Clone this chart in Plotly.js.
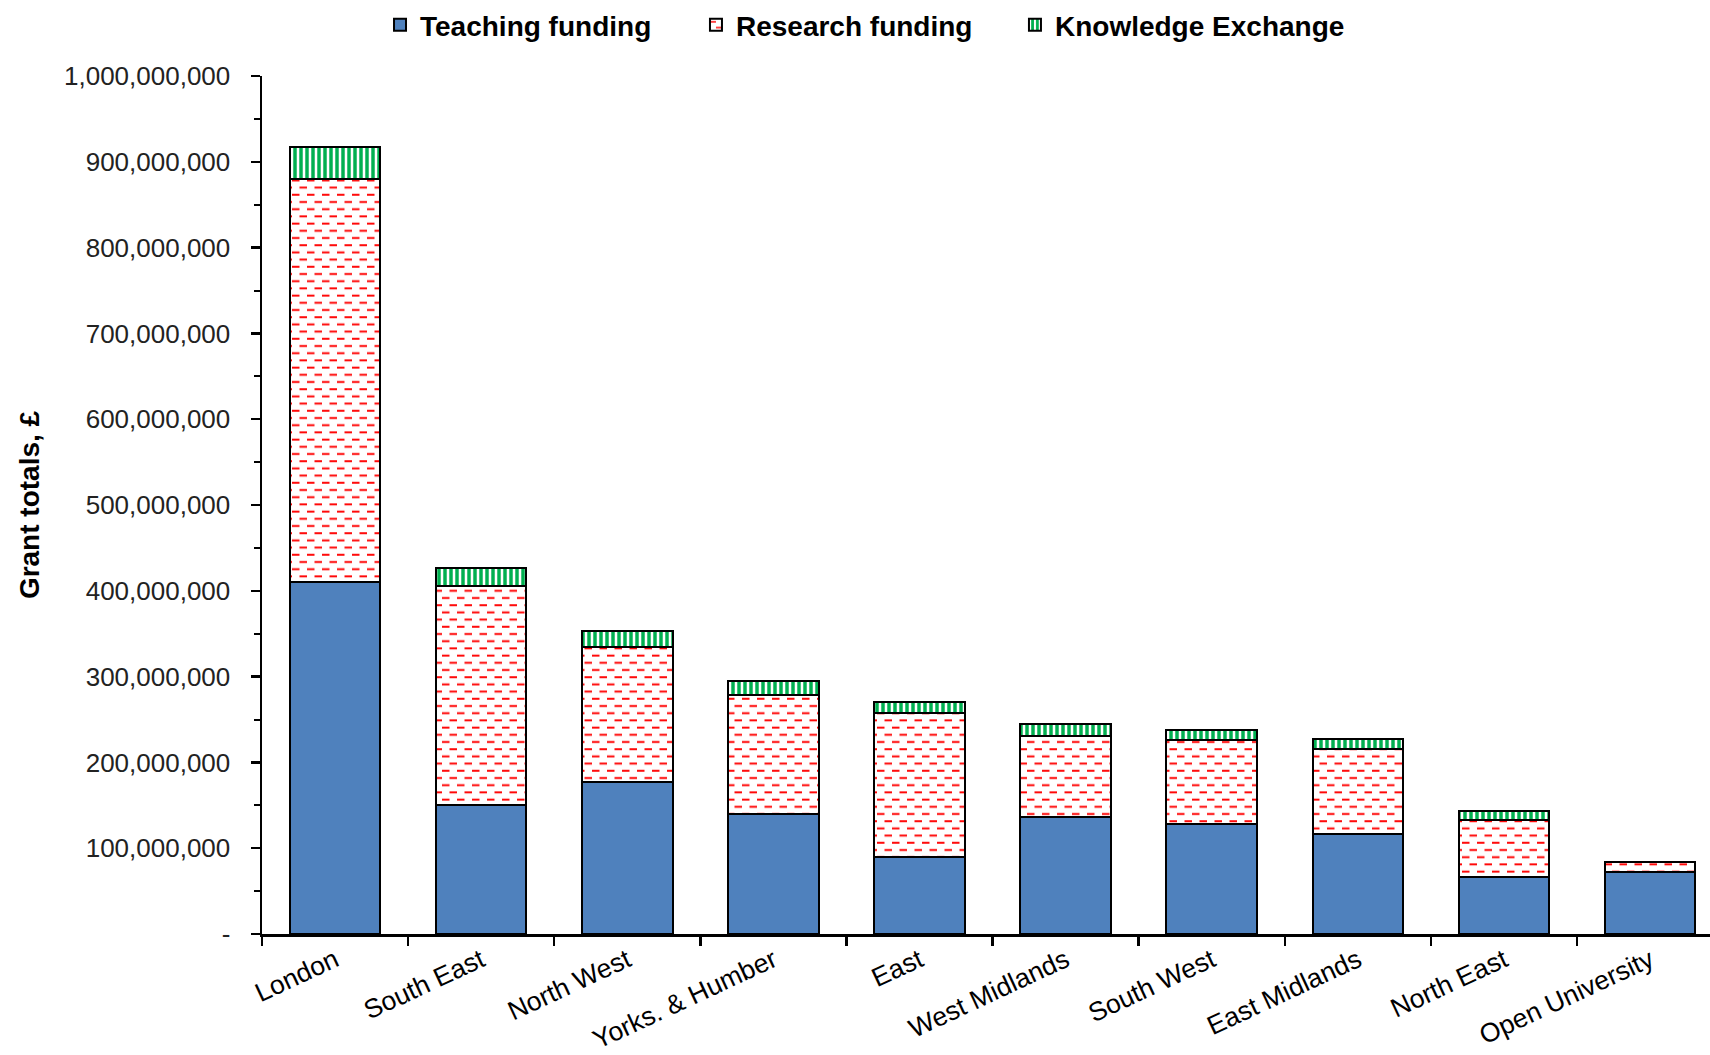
<!DOCTYPE html>
<html>
<head>
<meta charset="utf-8">
<script src="https://cdn.plot.ly/plotly-3.0.1.min.js"></script>
<style>
  html, body { margin: 0; padding: 0; background: #fff; }
  #chart { width: 1710px; height: 1055px; }
</style>
</head>
<body>
<div id="chart"></div>
<script>
// ---- data ----
var regions = ["London", "South East", "North West", "Yorks. & Humber", "East",
               "West Midlands", "South West", "East Midlands", "North East", "Open University"];
var teachingFunding = [410000000, 150000000, 177000000, 140000000, 90000000,
                       136000000, 128000000, 116000000, 67000000, 72000000];
var researchFunding = [470000000, 256000000, 158000000, 139000000, 167000000,
                       95000000, 98000000, 100000000, 66000000, 12000000];
var knowledgeExchange = [37000000, 21000000, 18000000, 16000000, 13500000,
                         14000000, 12000000, 11000000, 10000000, 0];
var yTickValues = [0, 100000000, 200000000, 300000000, 400000000, 500000000,
                   600000000, 700000000, 800000000, 900000000, 1000000000];
var yTickLabels = ["-", "100,000,000", "200,000,000", "300,000,000", "400,000,000",
                   "500,000,000", "600,000,000", "700,000,000", "800,000,000",
                   "900,000,000", "1,000,000,000"];

var FONT = "Liberation Sans, Arial, Helvetica, sans-serif";
var outline = { color: "#000000", width: 2 };

var traces = [
  {
    type: "bar", name: "Teaching funding", x: regions, y: teachingFunding,
    legend: "legend",
    marker: { color: "#4F81BD", line: outline },
    width: 0.62
  },
  {
    type: "bar", name: "Research funding", x: regions, y: researchFunding,
    legend: "legend2",
    marker: {
      color: "#FFFFFF", line: outline,
      pattern: { shape: "-", fgcolor: "rgb(255,0,0)", bgcolor: "#FFFFFF", fgopacity: 1, size: 7, solidity: 0.3, fillmode: "replace" }
    },
    width: 0.62
  },
  {
    type: "bar", name: "Knowledge Exchange", x: regions, y: knowledgeExchange,
    legend: "legend3",
    marker: {
      color: "#FFFFFF", line: outline,
      pattern: { shape: "|", fgcolor: "rgb(0,176,80)", bgcolor: "#FFFFFF", fgopacity: 1, size: 6, solidity: 0.58, fillmode: "replace" }
    },
    width: 0.62
  }
];

function legendAt(xPaper) {
  return {
    orientation: "h", x: xPaper, xanchor: "left", y: 1.06, yanchor: "middle",
    font: { family: FONT, size: 28, color: "#000000", weight: 700 },
    itemwidth: 30, bgcolor: "rgba(0,0,0,0)"
  };
}

var layout = {
  width: 1710, height: 1055,
  barmode: "stack",
  paper_bgcolor: "#FFFFFF", plot_bgcolor: "#FFFFFF",
  margin: { l: 262, r: 0, t: 74, b: 121 },
  font: { family: FONT, color: "#000000", size: 26 },
  showlegend: true,
  legend: legendAt(0.0815),
  legend2: legendAt(0.2997),
  legend3: legendAt(0.520),
  xaxis: {
    type: "category",
    range: [-0.5, 9.41],
    showline: true, linecolor: "#000000", linewidth: 2.5,
    ticks: "outside", ticklen: 9, tickwidth: 2.5, tickcolor: "#000000",
    tickson: "boundaries",
    tickangle: -25,
    ticklabelstandoff: -2,
    tickfont: { family: FONT, size: 26.5, color: "#000000" },
    showgrid: false, zeroline: false, fixedrange: true
  },
  yaxis: {
    range: [0, 1000000000],
    tickmode: "array", tickvals: yTickValues, ticktext: yTickLabels,
    showline: true, linecolor: "#000000", linewidth: 2.5,
    ticks: "outside", ticklen: 9, tickwidth: 2.5, tickcolor: "#000000",
    ticklabelstandoff: 15,
    minor: { ticks: "outside", ticklen: 6, tickwidth: 2, tickcolor: "#000000", dtick: 50000000, tick0: 0, showgrid: false },
    tickfont: { family: FONT, size: 26, color: "#222222" },
    showgrid: false, zeroline: false, fixedrange: true,
    title: { text: "Grant totals, £", font: { family: FONT, size: 28, color: "#000000", weight: 700 }, standoff: 16 }
  }
};

// Turn the plain horizontal-line pattern of the research series into
// staggered red dashes (Excel "dashed horizontal" fill).
function dashResearch() {
  var pats = document.querySelectorAll("#chart pattern");
  pats.forEach(function (pat) {
    var path = pat.querySelector("path");
    if (!path) return;
    var s = (path.getAttribute("stroke") || path.style.stroke || "").replace(/\s/g, "");
    if (s.indexOf("255,0,0") === -1) return;
    pat.setAttribute("width", 15);
    pat.setAttribute("height", 14.4);
    pat.querySelectorAll("rect").forEach(function (r) {
      r.setAttribute("width", 15);
      r.setAttribute("height", 14.4);
    });
    path.setAttribute("d", "M0,3.6H7.5M7.5,10.8H15");
    path.setAttribute("stroke-width", "2");
    path.style.strokeWidth = "2px";
  });
}

Plotly.newPlot("chart", traces, layout, { displayModeBar: false, staticPlot: true }).then(function (gd) {
  dashResearch();
  gd.on("plotly_afterplot", dashResearch);
});
</script>
</body>
</html>
